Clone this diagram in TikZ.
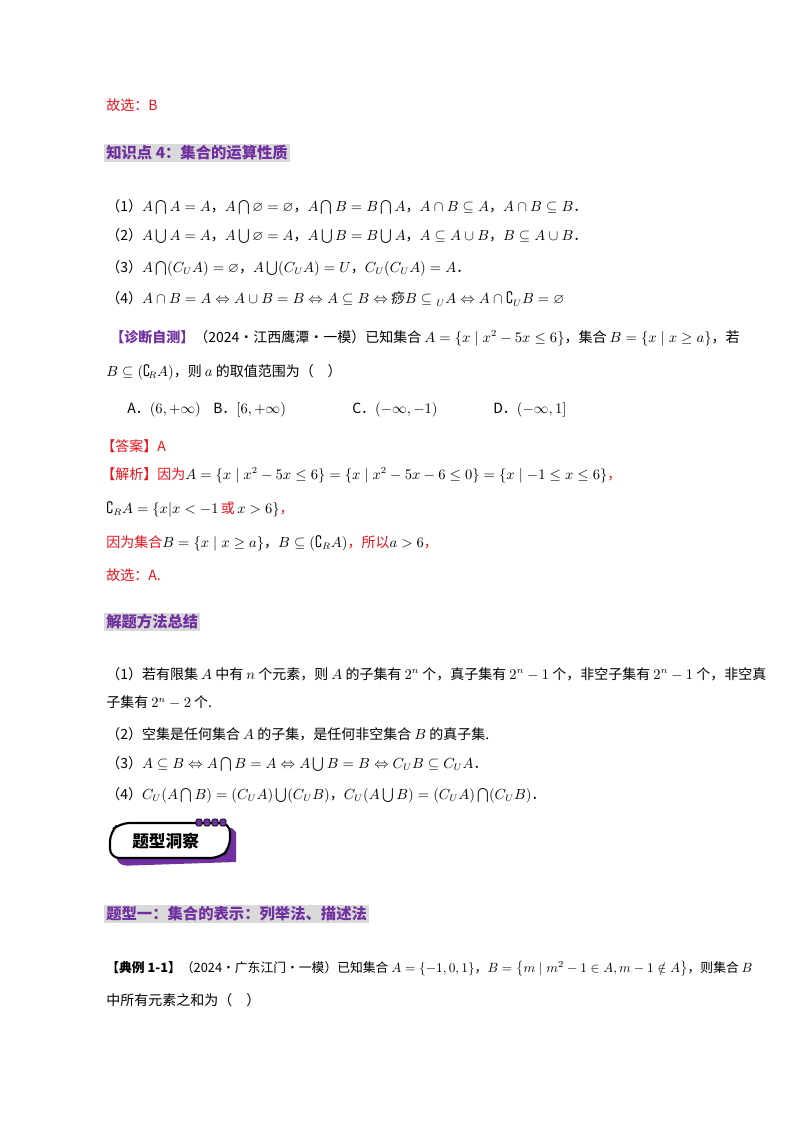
\documentclass[tikz,border=0pt]{standalone}
\usepackage{fontspec}
\usepackage{amssymb}
\newfontfamily\cjk{Noto Sans CJK SC}
\definecolor{rd}{HTML}{E8101A}
\definecolor{pu}{HTML}{7030A0}
\definecolor{hg}{HTML}{D9D9D9}
\begin{document}
\begin{tikzpicture}[x=0.75pt,y=-0.75pt,
  t/.style={anchor=west,inner sep=0pt,font=\cjk\fontsize{10.5}{12}\selectfont},
  hd/.style={t,font=\cjk\bfseries\fontsize{11.5}{13}\selectfont,text=pu,fill=hg,inner sep=1.5pt}]
\useasboundingbox (0,0) rectangle (800,1132);
\node[t,text=rd] (l1) at (106,105) {故选：B};
\node[hd] (h1) at (104,153) {知识点 4：集合的运算性质};
\node[t] (p1) at (106,207) {（1）$A\bigcap A=A$，$A\bigcap\varnothing=\varnothing$，$A\bigcap B=B\bigcap A$，$A\cap B\subseteq A$，$A\cap B\subseteq B$．};
\node[t] (p2) at (106,236) {（2）$A\bigcup A=A$，$A\bigcup\varnothing=A$，$A\bigcup B=B\bigcup A$，$A\subseteq A\cup B$，$B\subseteq A\cup B$．};
\node[t] (p3) at (106,268) {（3）$A\bigcap(C_UA)=\varnothing$，$A\bigcup(C_UA)=U$，$C_U(C_UA)=A$．};
\node[t] (p4) at (106,299) {（4）$A\cap B=A\Leftrightarrow A\cup B=B\Leftrightarrow A\subseteq B\Leftrightarrow$ 痧$B\subseteq{}_{U}A\Leftrightarrow A\cap\complement_{U}B=\varnothing$};
\node[t] (q1) at (110,338) {{\bfseries\color{pu}【诊断自测】}（2024·江西鹰潭·一模）已知集合 $A=\left\{x\mid x^2-5x\le 6\right\}$，集合 $B=\left\{x\mid x\ge a\right\}$，若};
\node[t] (q2) at (106,372) {$B\subseteq\left(\complement_{\!R}A\right)$，则 $a$ 的取值范围为（\quad）};
\node[t] (oA) at (127,410) {A．$\left(6,+\infty\right)$};
\node[t] (oB) at (213,410) {B．$\left[6,+\infty\right)$};
\node[t] (oC) at (352,410) {C．$\left(-\infty,-1\right)$};
\node[t] (oD) at (493,410) {D．$\left(-\infty,1\right]$};
\node[t,text=rd] (ans) at (101,446) {【答案】A};
\node[t] (s1) at (101,475) {\color{rd}【解析】因为\color{black}$A=\left\{x\mid x^2-5x\le6\right\}=\left\{x\mid x^2-5x-6\le0\right\}=\left\{x\mid-1\le x\le6\right\}$\color{rd}，};
\node[t] (s2) at (106,509) {$\complement_{R}A=\{x|x<-1$\,\color{rd}或\color{black}\,$x>6\}$\color{rd}，};
\node[t] (s3) at (106,543) {\color{rd}因为集合\color{black} $B=\left\{x\mid x\ge a\right\}$，$B\subseteq\left(\complement_{R}A\right)$\color{rd}，所以\color{black} $a>6$\color{rd}，};
\node[t,text=rd] (s4) at (106,575) {故选：A.};
\node[hd] (h2) at (104,622) {解题方法总结};
\node[t] (m1) at (106,674) {（1）若有限集 $A$ 中有 $n$ 个元素，则 $A$ 的子集有 $2^n$ 个，真子集有 $2^n-1$ 个，非空子集有 $2^n-1$ 个，非空真};
\node[t] (m1b) at (106,702) {子集有 $2^n-2$ 个.};
\node[t] (m2) at (106,734) {（2）空集是任何集合 $A$ 的子集，是任何非空集合 $B$ 的真子集.};
\node[t] (m3) at (106,764) {（3）$A\subseteq B\Leftrightarrow A\bigcap B=A\Leftrightarrow A\bigcup B=B\Leftrightarrow C_UB\subseteq C_UA$．};
\node[t] (m4) at (106,795) {（4）$C_U(A\bigcap B)=(C_UA)\bigcup(C_UB)$，$C_U(A\bigcup B)=(C_UA)\bigcap(C_UB)$．};
% badge
\fill[pu] (116,828) -- (232,828) -- (236,832) -- (236,862) [rounded corners=8pt]-- (116,866) -- cycle;
\draw[line width=1.6pt,fill=white,rounded corners=7pt] (110,858) -- (110,832) -- (120,823) -- (230,823) -- (230,848) -- (220,858) -- cycle;
\foreach \i in {0,1,2,3}{\fill[pu,draw=black,line width=0.6pt,rounded corners=1pt] (196+\i*8,819) rectangle +(6,7);}
\node[t,font=\cjk\bfseries\fontsize{12.5}{14}\selectfont] (bd) at (132,841) {题型洞察};
\node[hd] (h3) at (104,914) {题型一：集合的表示：列举法、描述法};
\node[t,font=\cjk\fontsize{9.6}{12}\selectfont] (e1) at (106,969) {{\bfseries【典例 1-1】}（2024·广东江门·一模）已知集合 $A=\left\{-1,0,1\right\}$，$B=\left\{m\mid m^2-1\in A,m-1\notin A\right\}$，则集合 $B$};
\node[t] (e2) at (106,1000) {中所有元素之和为（\quad）};
\end{tikzpicture}
\end{document}
